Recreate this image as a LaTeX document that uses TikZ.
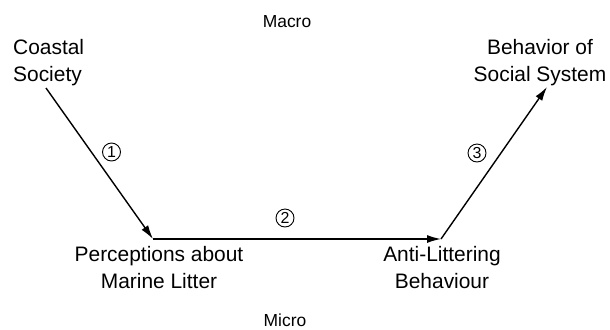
\documentclass[tikz,border=0pt]{standalone}
\usepackage{fontspec}
\setmainfont{Liberation Sans}
\usetikzlibrary{arrows.meta}
\begin{document}
\begin{tikzpicture}[x=1bp,y=-1bp,
  label text/.style={inner sep=0pt, font=\fontsize{21}{27}\selectfont},
  level text/.style={inner sep=0pt, font=\fontsize{17.5}{21}\selectfont},
  step num/.style={circle, draw, line width=0.9bp, minimum size=18bp, inner sep=0pt,
    font=\fontsize{16}{16}\selectfont},
  link/.style={line width=1.4bp, -{Latex[length=14bp,width=8bp]}}]
\useasboundingbox (0,0) rectangle (610,329);

% level labels
\node[level text, anchor=base] (macro) at (287,27) {Macro};
\node[level text, anchor=base] (micro) at (285,326) {Micro};

% concepts (base anchor sits on the last line)
\node[label text, anchor=base west, align=left] (cs) at (13,81.5) {Coastal\\Society};
\node[label text, anchor=base, align=center] (bss) at (540,81.5) {Behavior of\\Social System};
\node[label text, anchor=base, align=center] (pml) at (159,288) {Perceptions about\\Marine Litter};
\node[label text, anchor=base, align=center] (alb) at (442,288) {Anti-Littering\\Behaviour};

% path corners
\coordinate (p1) at (46,88);
\coordinate (p2) at (153,239);
\coordinate (p3) at (441,239);
\coordinate (p4) at (547,87);

\draw[link] (p1) -- (p2);
\draw[link] (p2) -- (p3);
\draw[link] (p3) -- (p4);

% step numbers
\node[step num] (n1) at (111.5,152) {1};
\node[step num] (n2) at (285,218) {2};
\node[step num] (n3) at (477,153) {3};
\end{tikzpicture}
\end{document}
